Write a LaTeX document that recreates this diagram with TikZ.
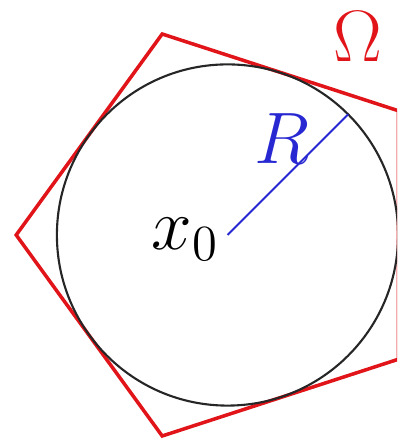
\documentclass[tikz,border=0pt]{standalone}
\usepackage{amsmath}
\definecolor{omred}{RGB}{225,20,25}
\definecolor{radblue}{RGB}{40,40,210}
\usetikzlibrary{calc}
\tikzset{
  bigtxt/.style={font=\fontsize{20}{24}\selectfont, inner sep=0pt}
}

\begin{document}
\begin{tikzpicture}[x=0.01cm,y=0.01cm]
  \clip (0,0) rectangle (397,443);
  \coordinate (x0) at (227.5,208);
  % circumscribed pentagon
  \foreach \i/\a in {1/36,2/108,3/180,4/252,5/324}
    \coordinate (p\i) at ($(x0)+(\a:2.112cm)$);
  \draw[omred,line width=1pt,line join=miter] (p1) -- (p2) -- (p3) -- (p4) -- (p5) -- cycle;
  \draw[black!85,line width=0.6pt] (x0) circle (1.705cm);
  \coordinate (rend) at ($(x0)+(45:1.705cm)$);
  \draw[radblue,line width=0.6pt] (x0) -- (rend);
  \node[bigtxt] (xlab) at (185,204) {$x_0$};
  \node[bigtxt,text=radblue] (rlab) at (282,304) {$R$};
  \node[bigtxt,text=omred] (om) at (358,406) {$\Omega$};
\end{tikzpicture}
\end{document}
